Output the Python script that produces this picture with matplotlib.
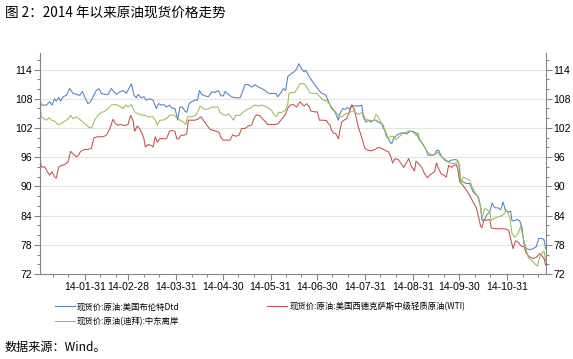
import pandas as pd
import matplotlib
matplotlib.use("Agg")
import matplotlib.pyplot as plt
import matplotlib.dates as mdates
from matplotlib.ticker import MultipleLocator

plt.rcParams['font.family'] = ['Noto Sans CJK SC', 'DejaVu Sans']

# 数据：天数为距 2014-01-01 的天数，数值读自原图
brent_day = [1.0, 1.7, 5.0, 7.1, 8.6, 10.4, 11.4, 13.0, 14.2, 15.8, 17.9, 20.1, 22.2, 24.4, 26.5, 28.3, 29.8, 31.9,
             33.6, 35.2, 37.3, 39.0, 40.5, 42.7, 44.9, 47.0, 48.7, 50.3, 52.4, 54.6, 56.7, 58.9, 60.0, 61.7, 63.2,
             64.3, 66.4, 68.1, 69.7, 71.8, 74.0, 76.1, 77.6, 79.4, 81.1, 82.6, 84.7,
             86.1, 88.2, 89.9, 91.4, 93.0, 94.7, 95.8, 97.3, 99.0, 101.1, 102.7, 104.0, 105.5, 107.6, 109.8, 111.9,
             114.1, 116.2, 118.0, 119.5, 120.6, 122.7, 124.9, 127.0, 130.3, 131.8, 133.5, 135.6, 137.8, 140.0, 142.1,
             144.3, 146.4, 147.5, 149.0, 150.7, 153.5, 154.6, 156.8, 158.3, 159.8, 161.1, 162.6, 164.8, 166.9,
             168.2, 170.1, 171.7, 172.9, 174.5, 176.6, 178.8, 180.9, 183.1, 185.2, 186.3, 188.0, 189.5, 191.7, 193.9,
             194.9, 196.7, 198.2, 199.7, 201.4, 202.5, 204.6, 206.8, 209.0, 210.0, 211.8, 213.3, 214.8, 216.5, 218.2,
             219.7, 221.9, 223.0, 224.0, 225.6, 227.3, 228.4, 229.9, 231.6, 233.3,
             235.0, 238.3, 240.4, 242.6, 244.1, 245.4,
             246.5, 248.6, 250.8, 251.9, 255.1, 256.6, 257.3, 258.8, 260.5, 262.7, 264.8, 267.0, 269.1, 270.8, 271.7,
             273.0, 274.5, 276.7, 278.8, 281.0, 283.1, 284.6, 285.9, 286.8, 288.5, 290.2, 291.8, 293.3, 295.0, 297.1,
             298.9, 300.4, 301.9, 303.6, 305.3, 306.2, 307.9, 309.7, 311.2, 312.7, 314.0, 315.5, 317.6, 319.8, 321.9,
             323.5, 325.2, 326.9, 328.0]
brent = [108.0, 106.7, 106.7, 107.4, 106.7, 108.0, 107.5, 108.3, 107.5, 108.4, 108.7, 110.1, 109.1, 108.9, 108.7,
         109.5, 108.4, 107.0, 107.4, 108.4, 109.7, 110.1, 109.1, 108.9, 108.9, 110.1, 109.4, 108.9, 109.4, 109.7,
         109.1, 110.4, 111.1, 108.7, 108.2, 108.9, 108.2, 108.4, 107.7, 108.0, 107.7, 106.0, 107.0, 106.7, 106.8,
         106.3, 106.7,
         106.1, 106.0, 103.6, 106.3, 106.3, 105.4, 105.2, 107.0, 107.4, 107.7, 107.7, 109.7, 108.9, 108.6, 108.4,
         109.4, 109.3, 109.7, 108.6, 108.6, 109.5, 108.9, 108.4, 108.2, 108.2, 109.4, 110.9, 110.9, 110.4, 110.9,
         110.4, 110.1, 109.7, 109.4, 109.1, 109.1, 109.1, 108.4, 109.3, 110.1, 109.7, 112.5, 113.0, 113.4, 114.1,
         115.2, 114.2, 113.5, 113.9, 112.8, 111.8, 110.8, 109.9, 109.1, 108.9, 108.4, 107.0, 106.0, 105.3, 103.6,
         105.0, 106.0, 105.8, 106.2, 105.8, 106.7, 106.5, 106.5, 106.7, 104.3, 103.2, 103.6, 103.2, 103.6, 103.6,
         103.2, 102.9, 101.9, 101.5, 100.2, 99.1, 98.8, 100.0, 100.5, 100.8,
         101.0, 100.8, 101.4, 101.2, 101.0, 100.2,
         99.5, 98.7, 97.4, 96.4, 96.4, 96.7, 97.4, 97.4, 96.2, 95.4, 95.0, 95.4, 95.5, 95.4, 94.7, 91.3, 90.9, 90.6,
         90.6, 88.9, 88.2, 87.7, 85.8, 83.0, 83.2, 84.3, 84.7, 86.6, 85.6, 85.6, 85.2, 86.8, 85.1, 84.7, 84.9, 82.9,
         83.0, 83.2, 82.9, 81.5, 78.2, 77.2, 77.0, 77.2, 77.6, 79.3, 79.3, 79.1, 77.2]

wti_day = [1.0, 1.7, 3.9, 5.6, 7.1, 8.6, 10.4, 11.4, 13.0, 14.7, 16.8, 19.0, 20.7, 22.2, 24.4, 25.5, 27.2, 29.8,
           31.9, 34.1, 35.8, 38.4, 41.6, 43.8, 45.9, 48.1, 49.6, 51.3, 53.5, 55.2, 56.7, 57.8, 59.5, 61.0, 62.1,
           63.8, 65.3, 66.9, 68.1, 69.0, 70.7, 72.9, 74.0, 75.5, 76.8, 78.3, 80.4, 82.6, 84.7,
           86.1, 88.2, 89.3, 90.4, 92.1, 94.2, 95.8, 96.8, 99.0, 101.1, 102.9, 105.0, 106.5, 108.7, 110.9, 113.0,
           115.2, 116.7, 118.0, 119.5, 121.6, 123.8, 125.5, 127.5, 129.6, 131.3, 133.5, 135.6, 137.8, 139.5, 141.0,
           143.2, 144.7, 146.4, 148.1, 150.3, 152.9, 155.0, 157.2, 159.4, 161.1, 162.6, 164.8, 166.9,
           169.1, 170.1, 171.7, 173.4, 175.1, 176.0, 178.8, 180.3, 181.6, 183.7, 186.3, 187.4, 188.5, 189.5, 190.6,
           192.3, 193.9, 194.9, 196.0, 197.5, 199.2, 201.0, 202.5, 204.0, 205.3, 206.8, 209.0, 211.1, 213.3, 215.4,
           217.6, 219.7, 221.9, 224.0, 226.2, 227.7, 229.0, 230.5, 232.7,
           236.1, 239.4, 241.1, 243.2, 244.1,
           245.4, 247.6, 249.7, 251.4, 253.0, 255.1, 256.2, 257.3, 258.8, 260.5, 262.2, 263.7, 265.2, 267.0, 268.7,
           270.2, 271.3, 272.4, 274.5, 276.7, 278.8, 281.0, 283.1, 284.6, 285.9, 286.8, 288.1, 289.6, 291.8, 292.8,
           295.0, 298.2, 301.5, 304.0, 305.8, 306.9, 308.4, 310.1, 312.2, 314.0, 315.5, 317.6, 319.8, 321.9, 324.1,
           325.6, 326.9, 328.0]
wti = [95.7, 94.0, 94.0, 93.0, 92.3, 93.0, 91.9, 91.7, 94.0, 94.3, 94.5, 95.0, 97.2, 96.7, 96.1, 96.3, 97.2, 97.6,
       97.6, 97.8, 100.0, 100.2, 100.2, 100.5, 101.7, 103.8, 102.9, 102.6, 102.7, 102.5, 102.6, 102.7, 104.6, 103.6,
       101.3, 102.4, 101.9, 100.8, 99.8, 98.1, 98.6, 98.4, 98.1, 100.2, 99.1, 99.8, 99.8, 99.8, 101.3,
       101.5, 101.3, 99.8, 99.7, 100.5, 100.5, 100.8, 103.6, 103.6, 103.6, 103.8, 104.3, 103.6, 102.6, 101.7, 101.5,
       101.3, 101.1, 100.0, 99.5, 99.5, 99.5, 100.6, 100.3, 100.5, 101.9, 101.9, 102.4, 102.6, 104.1, 104.7, 104.5,
       103.9, 103.4, 102.7, 102.7, 102.7, 102.9, 103.8, 104.6, 106.0, 106.7, 106.8, 106.3,
       107.4, 107.0, 106.5, 107.0, 106.3, 105.5, 105.3, 105.3, 103.6, 103.6, 103.5, 102.9, 102.6, 101.5, 101.0,
       100.8, 99.8, 101.5, 103.2, 103.6, 103.9, 105.3, 106.7, 106.0, 104.3, 102.2, 100.0, 97.8, 97.4, 97.3, 97.6,
       98.0, 97.8, 97.4, 97.1, 96.2, 94.8, 95.7, 95.5,
       93.9, 95.7, 94.1, 93.2, 95.2,
       94.8, 94.0, 92.6, 91.8, 92.3, 92.8, 93.0, 94.8, 93.6, 92.5, 92.3, 91.9, 94.3, 93.9, 94.3, 94.5, 93.3, 90.9,
       90.2, 89.2, 88.2, 86.8, 85.6, 83.7, 81.8, 81.5, 83.2, 83.0, 83.2, 81.5, 81.3, 81.3, 81.3, 81.0, 78.6, 77.2,
       78.8, 78.6, 77.7, 77.6, 76.2, 75.5, 75.2, 75.4, 76.2, 75.7, 75.2, 73.8]

dubai_day = [1.0, 1.7, 3.5, 5.0, 6.5, 8.2, 10.4, 12.5, 14.7, 16.8, 19.0, 20.7, 22.2, 24.4, 26.5, 28.7, 30.8, 33.0,
             34.5, 36.2, 38.4, 40.5, 42.7, 44.9, 47.0, 49.2, 51.3, 53.1, 54.6, 56.1, 57.8, 60.0, 62.1, 64.3, 66.4,
             68.6, 70.7, 74.0, 75.5, 76.8, 78.3, 80.4, 82.6, 84.7,
             87.1, 89.3, 91.4, 93.6, 95.1, 96.4, 99.0, 101.6, 103.3, 104.4, 106.5, 108.7, 110.9, 113.0, 115.8, 117.3,
             119.5, 121.6, 123.1, 124.9, 125.9, 127.5, 130.3, 132.4, 134.6, 136.7, 138.2, 140.0, 142.1, 144.3, 146.4,
             148.6, 150.7, 152.5, 154.0, 155.0, 157.2, 159.4, 161.1, 161.9, 163.7, 165.8,
             169.1, 171.7, 173.4, 175.5, 177.7, 179.8, 182.0, 184.2, 186.3, 188.5, 190.6, 192.8, 194.9, 196.7, 198.8,
             200.3, 201.8, 204.0, 205.7, 207.4, 209.6, 211.1, 213.3, 215.4, 216.9, 218.2, 219.7, 221.2, 223.0, 224.7,
             226.2, 227.7, 229.4, 231.2, 233.3,
             236.1, 238.3, 240.4, 242.6, 244.1,
             245.4, 246.5, 248.0, 249.7, 251.4, 253.0, 255.1, 257.3, 258.3, 259.4, 261.6, 263.7, 265.9, 268.0, 270.2,
             271.3, 272.4, 273.0, 274.5, 276.7, 278.8, 280.3, 282.1, 284.2, 285.9, 286.8, 288.5, 290.2, 291.8, 292.8,
             294.6, 296.7, 298.9, 301.0, 302.5, 304.7, 306.2, 307.9, 310.1, 311.8, 313.3, 314.8, 316.6, 318.7, 320.9,
             322.6, 324.1, 325.6, 326.9, 328.0]
dubai = [106.5, 104.3, 103.9, 103.6, 104.1, 103.6, 103.4, 102.7, 102.9, 103.4, 103.8, 104.6, 103.9, 104.3, 103.8,
         103.2, 102.6, 102.0, 102.2, 103.6, 104.6, 105.2, 105.4, 106.0, 106.7, 106.8, 106.7, 106.3, 106.0, 106.7,
         106.3, 106.8, 105.3, 104.9, 104.7, 104.6, 104.3, 104.3, 103.6, 102.6, 103.6, 103.6, 103.9, 104.6,
         104.7, 104.1, 103.6, 103.2, 102.7, 104.3, 104.3, 104.6, 105.6, 106.5, 106.0, 105.8, 106.1, 106.3, 106.3,
         105.2, 104.7, 104.6, 104.9, 104.1, 103.6, 104.6, 104.6, 105.3, 105.8, 106.0, 106.5, 106.7, 106.5, 106.7,
         106.5, 106.1, 105.6, 104.6, 104.3, 105.2, 105.2, 105.6, 106.7, 109.1, 109.3, 109.3,
         111.1, 111.1, 110.4, 109.2, 109.1, 109.1, 108.4, 107.7, 107.6, 106.7, 105.8, 105.1, 104.3, 104.4, 105.0,
         105.0, 105.3, 105.5, 105.0, 104.8, 105.3, 103.9, 103.6, 103.5, 103.6, 104.8, 104.3, 103.2, 102.6, 100.3,
         99.8, 100.3, 100.3, 99.6, 100.2,
         101.0, 101.2, 101.4, 101.0, 100.5,
         101.0, 99.8, 98.8, 98.1, 97.1, 96.7, 96.4, 96.7, 97.1, 96.4, 95.9, 95.4, 94.8, 94.7, 94.8, 95.2, 94.0, 90.6,
         91.9, 91.6, 91.3, 89.9, 88.9, 87.8, 85.6, 83.4, 85.4, 85.2, 84.7, 83.0, 83.4, 83.7, 83.9, 84.3, 85.2, 83.7,
         80.3, 79.5, 80.3, 81.8, 79.6, 77.9, 75.5, 74.8, 74.1, 73.6, 75.5, 76.3, 76.7, 74.8]

labels = ['现货价:原油:美国布伦特Dtd', '现货价:原油:美国西德克萨斯中级轻质原油(WTI)', '现货价:原油(迪拜):中东离岸']
month_ends = ['2014-01-31', '2014-02-28', '2014-03-31', '2014-04-30', '2014-05-31',
              '2014-06-30', '2014-07-31', '2014-08-31', '2014-09-30', '2014-10-31']

base = pd.Timestamp('2014-01-01')
def to_dates(days):
    return base + pd.to_timedelta(days, unit='D')

fig = plt.figure(figsize=(5.73, 3.59), dpi=100)
ax = fig.add_axes([40/573, 1-274/359, 506/573, 221/359])

l1, = ax.plot(to_dates(brent_day), brent, color='#4F81BD', lw=0.75)
l2, = ax.plot(to_dates(wti_day), wti, color='#C0504D', lw=0.75)
l3, = ax.plot(to_dates(dubai_day), dubai, color='#9BBB59', lw=0.75)

ax.set_xlim(base + pd.Timedelta(days=0.87), base + pd.Timedelta(days=328.2))
ax.set_ylim(72, 117.4)
ax.yaxis.set_major_locator(MultipleLocator(6))
ax.yaxis.set_minor_locator(MultipleLocator(2))
ax.set_xticks(pd.to_datetime(month_ends))
ax.xaxis.set_major_formatter(mdates.DateFormatter('%y-%m-%d'))
ax.xaxis.set_minor_locator(mdates.DayLocator(bymonthday=[10, 20]))

ax.grid(axis='y', which='major', color='#e4e4e4', lw=0.8)
ax.set_axisbelow(True)
for s in ['left', 'right', 'bottom']:
    ax.spines[s].set_color('#868686')
ax.spines['top'].set_visible(False)
ax.tick_params(which='both', direction='out', colors='#868686', labelcolor='black', labelsize=7.5,
               right=True, labelright=True)
ax.tick_params(which='major', length=4, width=0.8, pad=1.5)
ax.tick_params(which='minor', length=2.5, width=0.8)
for t in ax.get_xticklabels() + ax.yaxis.get_majorticklabels():
    t.set_family(['Liberation Sans', 'DejaVu Sans'])
for t in ax.yaxis.get_ticklabels(which='major'):
    t.set_family(['Liberation Sans', 'DejaVu Sans'])

fig.legend([l1, l3, l2], [labels[0], labels[2], labels[1]], ncol=2, frameon=False,
           loc='upper left', bbox_to_anchor=(55/573, 1-302/359), fontsize=6,
           handlelength=2.4, handletextpad=0.25, columnspacing=10.5, labelspacing=0.7,
           borderpad=0, borderaxespad=0)

fig.text(5/573, 1-14/359, '图 2：2014 年以来原油现货价格走势', fontsize=9.8, va='center', ha='left')
fig.text(5/573, 1-347/359, '数据来源：Wind。', fontsize=8.7, va='center', ha='left')

fig.savefig('out.png', dpi=100)
